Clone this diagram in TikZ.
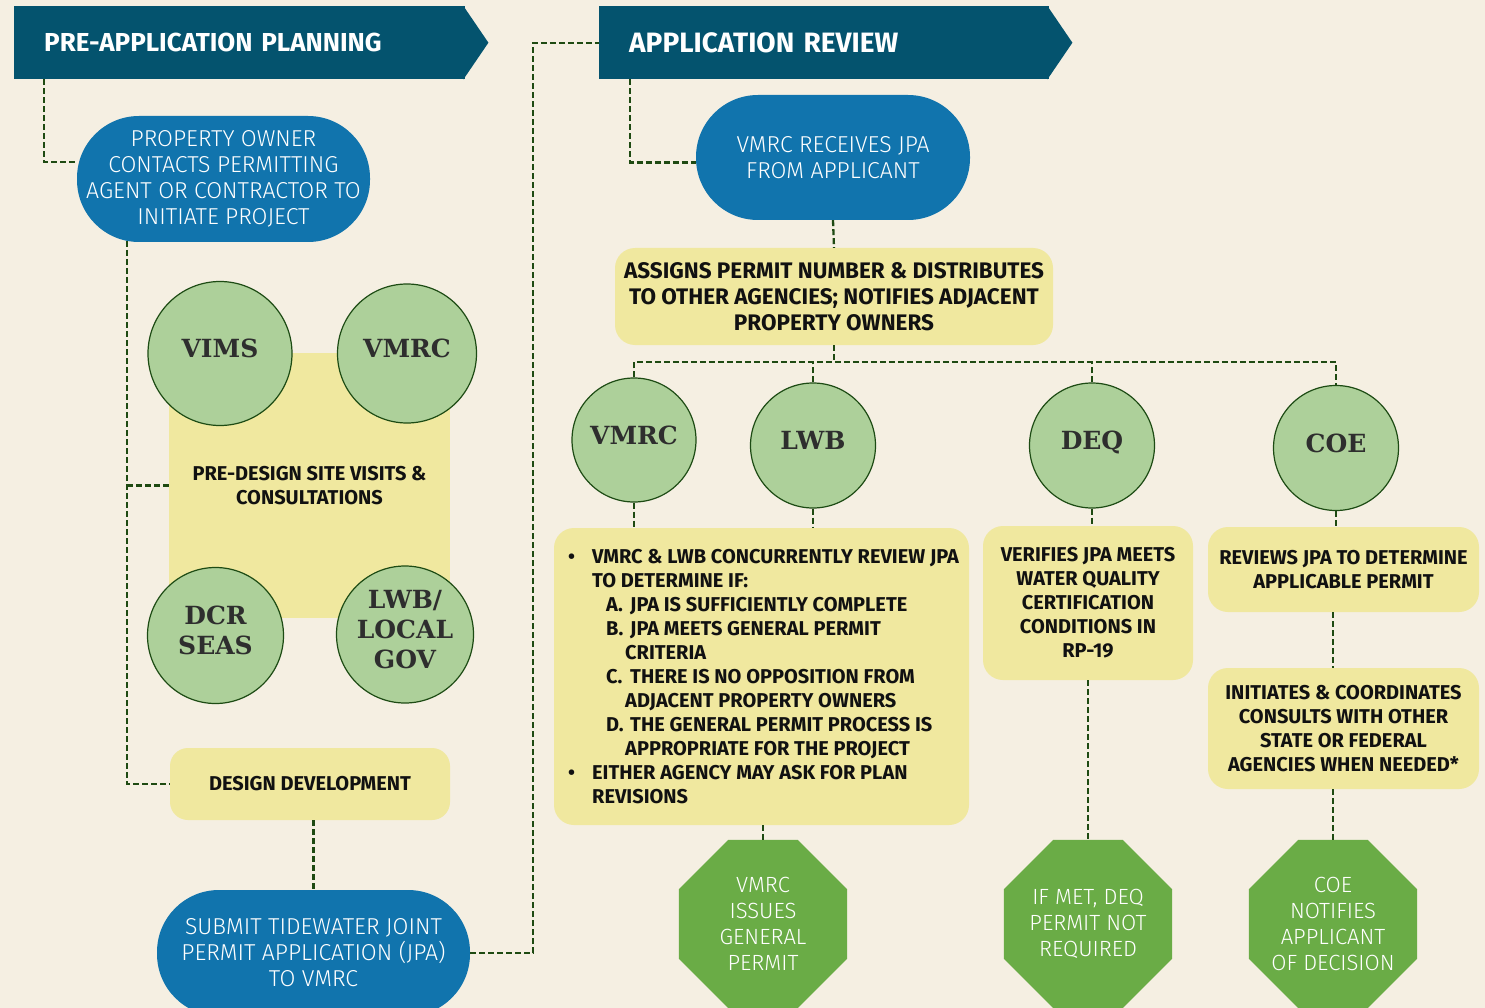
\documentclass[tikz,border=0pt]{standalone}
\usepackage{fontspec}
\setmainfont{Fira Sans}
\newfontfamily\slab{DejaVu Serif}
\newfontfamily\thin{Fira Sans Light}
\usetikzlibrary{shapes.geometric}

\definecolor{paper}{HTML}{F5EFE2}
\definecolor{navy}{HTML}{04536E}
\definecolor{pillc}{HTML}{1174AD}
\definecolor{sand}{HTML}{F0E89F}
\definecolor{leaf}{HTML}{ADD09A}
\definecolor{ringc}{HTML}{1D4B14}
\definecolor{okc}{HTML}{6AAC46}
\definecolor{linkc}{HTML}{1E4A12}
\definecolor{slate}{HTML}{2E2E2E}
\definecolor{ink}{HTML}{111111}

\newcommand{\lbul}{\makebox[24pt][l]{\textbullet}}
\newcommand{\lsub}[1]{\hspace*{38pt}\makebox[24pt][l]{#1}}
\newcommand{\lcont}{\hspace*{57pt}}

\begin{document}
\begin{tikzpicture}[x=1pt,y=-1pt,
  link/.style={draw=linkc,line width=2.3pt,dash pattern=on 6pt off 3pt},
  banner/.style={fill=navy,text=white,font=\bfseries\fontsize{26}{30}\selectfont,minimum height=73pt,inner xsep=30pt,inner ysep=0pt,align=left,anchor=north west},
  pill/.style={rectangle,rounded corners=62pt,fill=pillc,text=white,font=\thin\fontsize{23}{26}\selectfont,align=center,inner sep=0pt},
  agency/.style={circle,draw=ringc,line width=1.2pt,fill=leaf,text=slate,font=\slab\bfseries\fontsize{25}{30}\selectfont,align=center,inner sep=0pt,text depth=10pt},
  note/.style={rectangle,rounded corners=20pt,fill=sand,text=ink,font=\bfseries\fontsize{20}{24}\selectfont,align=center,inner sep=0pt},
  octo/.style={regular polygon,regular polygon sides=8,minimum size=182pt,fill=okc,text=white,font=\thin\fontsize{22}{26}\selectfont,align=center,inner sep=-12pt}]
\fill[paper] (0,0) rectangle (1485,1008);
\useasboundingbox (0,0) rectangle (1485,1008);

% pre-application planning
\node[banner,text width=391pt] (ban1) at (14,6) {PRE-APPLICATION PLANNING};
\fill[navy] ([xshift=-2pt]ban1.north east) -- ([xshift=23pt]ban1.east) -- ([xshift=-2pt]ban1.south east) -- cycle;
\node[pill,minimum width=293pt,minimum height=126pt] (own) at (223.5,179) {PROPERTY OWNER\\CONTACTS PERMITTING\\AGENT OR CONTRACTOR TO\\INITIATE PROJECT};
\node[note,rounded corners=0pt,minimum width=281pt,minimum height=265pt] (pds) at (309.5,485.5) {PRE-DESIGN SITE VISITS \&\\CONSULTATIONS};
\node[agency,minimum size=144pt] (vims) at (220,353.5) {VIMS};
\node[agency,minimum size=139pt] (vmrc1) at (407,353.5) {VMRC};
\node[agency,minimum size=136pt] (dcr) at (215.5,635.5) {DCR\\SEAS};
\node[agency,minimum size=137pt] (lwb1) at (405,634.5) {LWB/\\LOCAL\\GOV};
\node[note,rounded corners=18pt,minimum width=280pt,minimum height=72pt] (dev) at (310,784) {DESIGN DEVELOPMENT};
\node[pill,minimum width=313pt,minimum height=126pt] (sub) at (313.5,953) {SUBMIT TIDEWATER JOINT\\PERMIT APPLICATION (JPA)\\TO VMRC};

% application review
\node[banner,font=\bfseries\fontsize{28}{30}\selectfont,text width=390pt] (ban2) at (599,6) {APPLICATION REVIEW};
\fill[navy] ([xshift=-2pt]ban2.north east) -- ([xshift=23pt]ban2.east) -- ([xshift=-2pt]ban2.south east) -- cycle;
\node[pill,minimum width=274pt,minimum height=125pt] (rcv) at (833,157.5) {VMRC RECEIVES JPA\\FROM APPLICANT};
\node[note,font=\bfseries\fontsize{22.5}{26}\selectfont,minimum width=438pt,minimum height=97pt] (asg) at (834,296.5) {ASSIGNS PERMIT NUMBER \& DISTRIBUTES\\TO OTHER AGENCIES; NOTIFIES ADJACENT\\PROPERTY OWNERS};
\node[agency,minimum size=124pt] (c1) at (634,440) {VMRC};
\node[agency,minimum size=125pt] (c2) at (813,445.5) {LWB};
\node[agency,minimum size=125pt] (c3) at (1092,445.5) {DEQ};
\node[agency,minimum size=125pt] (c4) at (1336,448) {COE};
\node[note,minimum width=415pt,minimum height=297pt] (rev) at (761.5,676.5) {};
\node[note,align=left,anchor=west] (revtxt) at (568,676.5) {\lbul VMRC \& LWB CONCURRENTLY REVIEW JPA\\
  \hspace*{24pt}TO DETERMINE IF:\\
  \lsub{A.}JPA IS SUFFICIENTLY COMPLETE\\
  \lsub{B.}JPA MEETS GENERAL PERMIT\\
  \lcont CRITERIA\\
  \lsub{C.}THERE IS NO OPPOSITION FROM\\
  \lcont ADJACENT PROPERTY OWNERS\\
  \lsub{D.}THE GENERAL PERMIT PROCESS IS\\
  \lcont APPROPRIATE FOR THE PROJECT\\
  \lbul EITHER AGENCY MAY ASK FOR PLAN\\
  \hspace*{24pt}REVISIONS};
\node[note,minimum width=210pt,minimum height=154pt] (deq) at (1088,603) {VERIFIES JPA MEETS\\WATER QUALITY\\CERTIFICATION\\CONDITIONS IN\\RP-19};
\node[note,minimum width=271pt,minimum height=85pt] (coe1) at (1343.5,569.5) {REVIEWS JPA TO DETERMINE\\APPLICABLE PERMIT};
\node[note,minimum width=271pt,minimum height=121pt] (coe2) at (1343.5,728.5) {INITIATES \& COORDINATES\\CONSULTS WITH OTHER\\STATE OR FEDERAL\\AGENCIES WHEN NEEDED*};
\node[octo] (o1) at (763,924) {VMRC\\ISSUES\\GENERAL\\PERMIT};
\node[octo] (o2) at (1088,924) {IF MET, DEQ\\PERMIT NOT\\REQUIRED};
\node[octo] (o3) at (1333,924) {COE\\NOTIFIES\\APPLICANT\\OF DECISION};

% connectors
\draw[link] ([xshift=30pt]ban1.south west) |- ([yshift=17pt]own.west);
\draw[link] (127,241) coordinate (spine) |- (dev.west);
\draw[link] (spine |- pds.west) -- (pds.west);
\draw[link] (dev.south -| sub.north) -- (sub.north);
\draw[link] (sub.east) -- ++(63,0) |- (ban2.west);
\draw[link] ([xshift=31pt]ban2.south west) |- ([yshift=-5pt]rcv.west);
\draw[link] (rcv.south) -- (asg.north);
\draw[link] (asg.south) -- ++(0,17) coordinate (hub);
\draw[link] (c1.north) |- (hub) -| (c4.north);
\draw[link] (c2.north) -- (c2.north |- hub);
\draw[link] (c3.north) -- (c3.north |- hub);
\draw[link] (c1.south) -- (c1.south |- rev.north);
\draw[link] (c2.south) -- (c2.south |- rev.north);
\draw[link] (c3.south) -- (c3.south |- deq.north);
\draw[link] (c4.south) -- (c4.south |- coe1.north);
\draw[link] (coe1.south -| o3.north) -- (coe2.north -| o3.north);
\draw[link] (rev.south -| o1.north) -- (o1.north);
\draw[link] (deq.south -| o2.north) -- (o2.north);
\draw[link] (coe2.south -| o3.north) -- (o3.north);
\end{tikzpicture}
\end{document}
